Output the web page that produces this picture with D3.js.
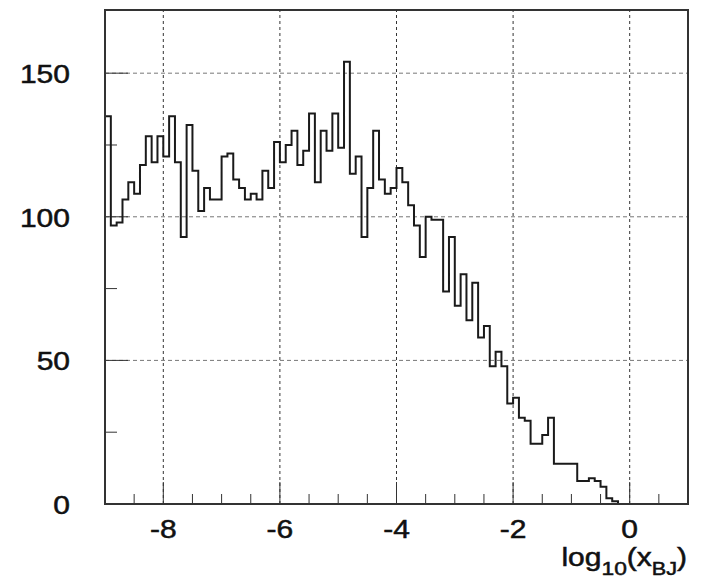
<!DOCTYPE html>
<html>
<head>
<meta charset="utf-8">
<script src="https://cdn.jsdelivr.net/npm/d3@7"></script>
<style>
  body { margin: 0; background: #fff; }
  text { font-family: "Liberation Sans", Arial, Helvetica, sans-serif; fill: #111; stroke: #111; stroke-width: 0.5px; }
</style>
</head>
<body>
<div id="chart"></div>
<script>
var width = 701;
var height = 588;

// histogram of log10(x_BJ), 100 bins from -9 to 1
var binLow = -9;
var binHigh = 1;
var binCounts = [
    135, 97, 98, 106, 112, 108, 118, 128, 119, 128,
    121, 135, 119, 93, 132, 116, 102, 110, 106, 106,
    121, 122, 113, 110, 106, 108, 106, 116, 110, 126,
    119, 125, 130, 118, 123, 136, 112, 130, 123, 136,
    124, 154, 115, 121, 93, 110, 130, 113, 108, 110,
    117, 112, 104, 97, 86, 100, 99, 99, 74, 93,
    69, 80, 64, 77, 58, 62, 48, 53, 48, 35,
    37, 30, 29, 21, 21, 24, 30, 14, 14, 14,
    14, 8, 8, 9, 8, 6, 2, 1, 0, 0,
    0, 0, 0, 0, 0, 0, 0, 0, 0, 0
];

var xMajorTicks = [-8, -6, -4, -2, 0];
var xMinorTicks = d3.range(-8.5, 1, 0.5);
var yMajorTicks = [0, 50, 100, 150];
var yMinorTicks = [25, 75, 125];
var yGridLines = [50, 100, 150];
var yMax = 172;

var margin = {left: 105, right: 13, top: 10, bottom: 84};

var svg = d3.select("#chart")
    .append("svg")
    .attr("width", width)
    .attr("height", height);

var x = d3.scaleLinear()
    .domain([binLow, binHigh])
    .range([margin.left, width - margin.right]);
var y = d3.scaleLinear()
    .domain([0, yMax])
    .range([height - margin.bottom, margin.top]);

var binWidth = (binHigh - binLow) / binCounts.length;

// grid
svg.append("g")
    .selectAll("line")
    .data(xMajorTicks)
    .enter()
    .append("line")
        .attr("x1", d => x(d)).attr("x2", d => x(d))
        .attr("y1", y(0)).attr("y2", y(yMax))
        .style("stroke", "#333")
        .style("stroke-width", 1)
        .style("stroke-dasharray", "3,3");

svg.append("g")
    .selectAll("line")
    .data(yGridLines)
    .enter()
    .append("line")
        .attr("x1", x(binLow)).attr("x2", x(binHigh))
        .attr("y1", d => y(d)).attr("y2", d => y(d))
        .style("stroke", "#777")
        .style("stroke-width", 1)
        .style("stroke-dasharray", "4,3");

// ticks (drawn inside the frame)
var ticks = svg.append("g").style("stroke", "#333").style("stroke-width", 1);
ticks.selectAll(".xmaj").data(xMajorTicks).enter().append("line")
    .attr("x1", d => x(d)).attr("x2", d => x(d))
    .attr("y1", y(0)).attr("y2", y(0) - 22);
ticks.selectAll(".xmin").data(xMinorTicks.filter(d => xMajorTicks.indexOf(d) < 0)).enter().append("line")
    .attr("x1", d => x(d)).attr("x2", d => x(d))
    .attr("y1", y(0)).attr("y2", y(0) - 10);
ticks.selectAll(".ymaj").data(yMajorTicks).enter().append("line")
    .attr("x1", x(binLow)).attr("x2", x(binLow) + 23)
    .attr("y1", d => y(d)).attr("y2", d => y(d));
ticks.selectAll(".ymin").data(yMinorTicks).enter().append("line")
    .attr("x1", x(binLow)).attr("x2", x(binLow) + 12)
    .attr("y1", d => y(d)).attr("y2", d => y(d));

// histogram outline
var pts = binCounts.map((c, i) => [binLow + i * binWidth, c]);
pts.push([binHigh, binCounts[binCounts.length - 1]]);

var line = d3.line()
    .x(d => x(d[0]))
    .y(d => y(d[1]))
    .curve(d3.curveStepAfter);

svg.append("path")
    .attr("d", line(pts))
    .style("fill", "none")
    .style("stroke", "#1a1a1a")
    .style("stroke-width", 2);

// frame
svg.append("rect")
    .attr("x", x(binLow))
    .attr("y", y(yMax))
    .attr("width", x(binHigh) - x(binLow))
    .attr("height", y(0) - y(yMax))
    .style("fill", "none")
    .style("stroke", "#333")
    .style("stroke-width", 2);

// labels - the picture's glyphs are a bit wide, so stretch them
var sx = 1.2;
svg.append("g")
    .selectAll("text")
    .data(yMajorTicks)
    .enter()
    .append("text")
        .attr("transform", d => "translate(70," + (y(d) + 10) + ") scale(" + sx + ",1)")
        .attr("text-anchor", "end")
        .style("font-size", "25px")
        .text(d => d);

svg.append("g")
    .selectAll("text")
    .data(xMajorTicks)
    .enter()
    .append("text")
        .attr("transform", d => "translate(" + x(d) + ",538) scale(" + sx + ",1)")
        .attr("text-anchor", "middle")
        .style("font-size", "25px")
        .text(d => d);

var xl = svg.append("text")
    .attr("transform", "translate(687,566) scale(" + sx + ",1)")
    .attr("text-anchor", "end")
    .style("font-size", "25px");
xl.append("tspan").text("log");
xl.append("tspan").attr("dy", 9).style("font-size", "19px").text("10");
xl.append("tspan").attr("dy", -9).text("(x");
xl.append("tspan").attr("dy", 9).style("font-size", "18px").text("BJ");
xl.append("tspan").attr("dy", -9).text(")");
</script>
</body>
</html>
